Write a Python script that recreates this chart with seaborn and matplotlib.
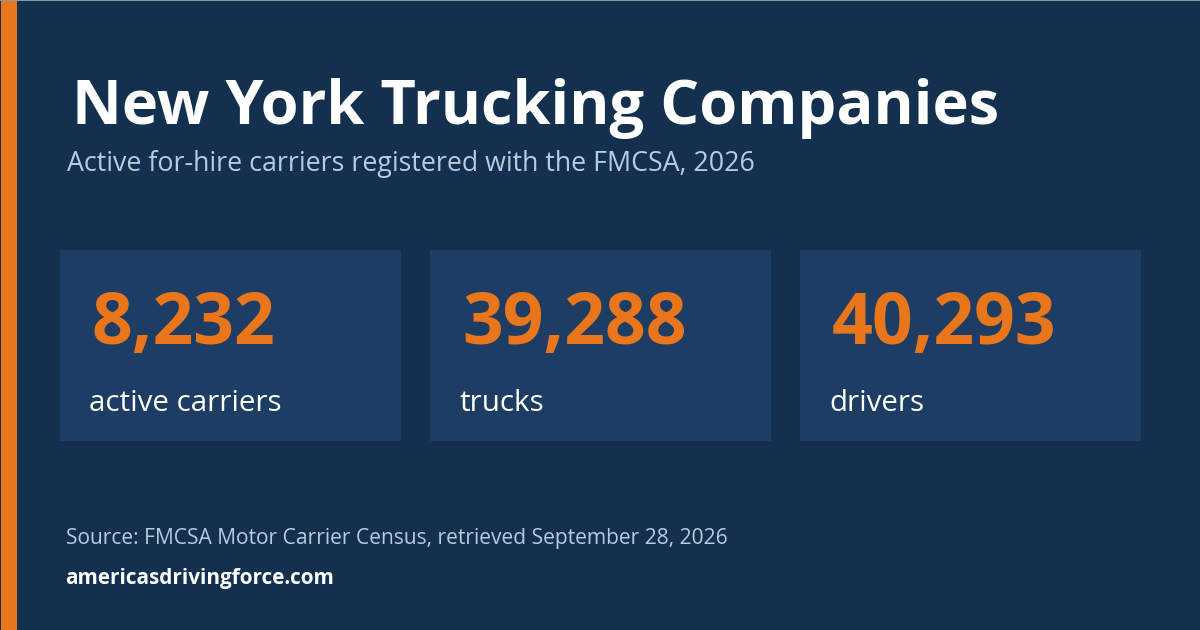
import matplotlib
matplotlib.use("Agg")
import matplotlib.pyplot as plt
import seaborn as sns
import pandas as pd

# Valeurs du graphique
labels = ["active carriers", "trucks", "drivers"]
values = [8232, 39288, 40293]

title = "New York Trucking Companies"
subtitle = "Active for-hire carriers registered with the FMCSA, 2026"
source = "Source: FMCSA Motor Carrier Census, retrieved September 28, 2026"
site = "americasdrivingforce.com"

BG = "#14304f"
CARD = "#1e3d64"
ORANGE = "#e9761b"
SOFT = "#b8cbe0"

sns.set_theme(style="white")
plt.rcParams["font.family"] = ["Open Sans", "Noto Sans", "DejaVu Sans"]

W, H = 1200, 630
fig = plt.figure(figsize=(W / 100, H / 100), dpi=100, facecolor=BG)


def px_axes(x, y, w, h):
    """Axes placés en pixels, origine en haut à gauche"""
    return fig.add_axes([x / W, 1 - (y + h) / H, w / W, h / H])


def px_text(x, y, s, **kw):
    # y = ligne de base du texte, en pixels depuis le haut
    fig.text(x / W, 1 - y / H, s, va="baseline", ha="left", **kw)


# Bande orange à gauche
strip = px_axes(1, 0, 16, H)
strip.set_axis_off()
strip.add_patch(plt.Rectangle((0, 0), 1, 1, color=ORANGE, lw=0, transform=strip.transAxes))

# Liseré gris clair en haut de l'image
top = px_axes(0, 0, W, 1)
top.set_axis_off()
top.add_patch(plt.Rectangle((0, 0), 1, 1, color="#8a97a6", lw=0, transform=top.transAxes))

px_text(72, 124, title, color="white", fontsize=44.2, fontweight="bold")
px_text(67, 171, subtitle, color=SOFT, fontsize=19.25)

# Une carte par valeur, dessinée comme une barre pleine
df = pd.DataFrame({"label": labels, "value": values})
card_x = [60, 430, 800]
for i, row in df.iterrows():
    ax = px_axes(card_x[i], 250, 341, 191)
    sns.barplot(x=[0], y=[1], color=CARD, width=1, saturation=1, edgecolor="none", linewidth=0, ax=ax)
    ax.set_xlim(-0.5, 0.5)
    ax.set_ylim(0, 1)
    ax.set_axis_off()
    px_text(card_x[i] + 32, 344, f"{row['value']:,}", color=ORANGE, fontsize=51.5, fontweight="bold")
    px_text(card_x[i] + 29, 411, row["label"], color="white", fontsize=21.35)

px_text(66, 544, source, color=SOFT, fontsize=15.17)
px_text(65.5, 584, site, color="white", fontsize=14.95, fontweight="bold")

fig.savefig("out.png", dpi=100, facecolor=BG)
